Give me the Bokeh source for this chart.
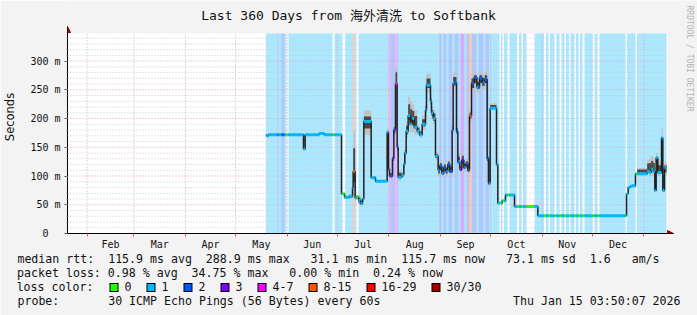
import math
from datetime import datetime
from bokeh.plotting import figure
from bokeh.models import FixedTicker, Arrow, NormalHead, Range1d, LinearAxis
from bokeh.core.properties import value
from bokeh.embed import file_html
from bokeh.resources import INLINE

MONO = "DejaVu Sans Mono"
NB = "\u00a0"

# ---------------- data ----------------
title_text = "Last 360 Days from 海外清洗 to Softbank"
start_time = datetime(2025, 1, 20, 3, 50, 7)
span_days = 360
data_end = 359.4
y_top = 348

month_labels = ["Feb", "Mar", "Apr", "May", "Jun", "Jul", "Aug", "Sep", "Oct", "Nov", "Dec"]
month_starts_dt = [datetime(2025, m, 1) for m in range(2, 13)] + [datetime(2026, 1, 1)]

y_ticks = [0, 50, 100, 150, 200, 250, 300]
y_tick_labels = ["0" + NB + NB, "50 m", "100 m", "150 m", "200 m", "250 m", "300 m"]
y_minor = list(range(10, 350, 10))

loss_labels = ["0", "1", "2", "3", "4-7", "8-15", "16-29", "30/30"]
loss_colors = ["#26ff00", "#00b8ff", "#0059ff", "#7e00ff", "#ff00ff", "#ff5500", "#ff0000", "#a10000"]

# loss timeline (day offsets from start, category index)
loss_start = [119.0, 126.0, 126.6, 128.4, 130.2, 131.4, 132.6, 159.0, 160.2, 165.0, 166.6, 171.4,
              172.6, 173.4, 174.6, 192.8, 193.8, 196.5, 197.8, 198.3, 223.0, 224.4, 225.6, 227.4,
              228.6, 231.0, 232.2, 234.6, 235.8, 238.2, 239.4, 241.0, 242.6, 245.4, 246.6, 249.6,
              250.8, 253.0, 259.2, 260.1, 261.0, 261.9, 264.0, 265.2, 269.7, 270.9, 272.4, 273.3,
              275.4, 280.2, 285.9, 287.1, 288.6, 289.5, 292.2, 293.4, 295.2, 296.4, 298.2, 299.1,
              300.9, 301.8, 304.2, 305.1, 306.6, 307.5, 309.0, 310.2, 315.0, 316.2, 318.0, 319.2,
              334.8, 335.7, 340.8, 341.7]
loss_cat = [1, 2, 1, 2, 1, 0, 1, 0, 1, 0, 1, 5, 1, 0, 1, 4, 2, 4, 2, 1, 2, 1, 2, 1, 2, 1, 2, 1,
            3, 1, 2, 5, 2, 1, 2, 1, 2, 1,
            0, 1, 0, 1, 0, 1, 0, 1, 0, 1, 0, 1, 0, 1, 0, 1, 0, 1, 0, 1, 0, 1, 0, 1, 0, 1, 0, 1,
            0, 1, 0, 1, 0, 1, 0, 1, 0, 1]

# median rtt timeline (day offsets, ms) with smoke extent (ms)
med_start = [119.0, 119.4, 120.6, 141.6, 142.6, 151.0, 154.0, 164.4, 166.2, 169.0, 171.0, 171.4,
             172.6, 173.4, 174.6, 175.8, 177.0, 177.8, 182.2, 184.8, 191.8, 192.6, 193.2, 195.0,
             195.8, 196.8, 197.8, 198.4, 200.4, 201.8, 202.4, 203.2, 204.4, 205.6, 206.8, 208.0,
             209.8, 211.2, 212.8, 214.8, 215.4, 217.8, 218.4, 219.4, 220.8, 222.4, 223.4, 224.6,
             225.8, 227.0, 228.2, 229.4, 230.8, 231.4, 233.4, 234.2, 235.4, 236.6, 237.8, 239.0,
             240.2, 241.2, 242.4, 244.0, 245.6, 247.2, 248.8, 250.4, 251.8, 252.6, 253.6, 257.4,
             258.2, 260.8, 262.8, 268.2, 282.2, 335.4, 336.4, 337.6, 338.8, 340.8, 341.8, 347.8,
             349.0, 350.2, 351.4, 352.4, 353.2, 354.2, 356.4, 357.2, 358.2]
med_ms = [171, 170, 172, 147, 172, 174, 172, 69, 63, 65, 80, 108,
          62, 64, 58, 52, 60, 195, 97, 91, 176, 112, 100, 130,
          180, 260, 150, 98, 102, 120, 140, 178, 205, 190, 200, 185,
          178, 172, 190, 215, 258, 230, 210, 200, 135, 110, 118, 105,
          115, 108, 120, 108, 180, 262, 178, 125, 112, 128, 115, 122,
          110, 205, 262, 272, 255, 270, 262, 268, 130, 88, 218, 120,
          53, 57, 67, 47, 31, 69, 80, 82, 83, 104, 104, 108,
          106, 112, 108, 75, 132, 106, 166, 75, 115]
smoke_lo = [171, 170, 172, 147, 172, 174, 172, 69, 60, 60, 76, 60,
            58, 60, 50, 47, 55, 172, 95, 90, 165, 105, 95, 122,
            170, 250, 140, 92, 96, 112, 132, 165, 185, 175, 178, 172,
            172, 166, 180, 205, 245, 220, 200, 190, 128, 100, 105, 98,
            105, 100, 110, 100, 170, 250, 168, 115, 105, 115, 108, 112,
            104, 195, 245, 255, 245, 255, 250, 255, 122, 82, 216, 115,
            52, 56, 66, 47, 31, 69, 79, 81, 82, 103, 103, 104,
            100, 100, 100, 72, 100, 100, 120, 72, 100]
smoke_hi = [171, 170, 172, 150, 172, 174, 172, 69, 66, 68, 84, 178,
            66, 67, 66, 60, 64, 214, 100, 92, 182, 118, 108, 138,
            190, 291, 160, 110, 108, 128, 148, 195, 238, 230, 225, 215,
            188, 180, 205, 228, 278, 240, 220, 215, 142, 118, 128, 115,
            125, 118, 130, 122, 190, 280, 188, 140, 120, 142, 125, 130,
            118, 215, 278, 282, 270, 282, 278, 282, 138, 95, 226, 125,
            55, 58, 68, 47, 31, 69, 82, 84, 85, 106, 114, 128,
            130, 135, 130, 110, 140, 125, 183, 110, 125]

rtt_stats = [115.9, 288.9, 31.1, 115.7]
rtt_sd = 73.1
rtt_ams = 1.6
loss_stats = [0.98, 34.75, 0.00, 0.24]
probe_text = "30 ICMP Echo Pings (56 Bytes) every 60s"
stamp_text = "Thu Jan 15 03:50:07 2026"
watermark = "RRDTOOL / TOBI OETIKER"

# ---------------- derived ----------------
def day_of(dt):
    return (dt - start_time).total_seconds() / 86400.0

month_starts = [round(day_of(d), 3) for d in month_starts_dt]
month_mids = [round((a + b) / 2, 3) for a, b in zip(month_starts[:-1], month_starts[1:])]
loss_end = loss_start[1:] + [data_end]
med_end = med_start[1:] + [data_end]

# canvas layout (px)
W, H = 697, 315
PL, PR, PT, PB = 67, 667, 33, 233      # plot area

def X(cx):   # canvas px -> day
    return round((cx - PL) * span_days / (PR - PL), 3)
def Y(cy):   # canvas px -> ms
    return (PB - cy) * y_top / (PB - PT)

BG = "#f3f3f3"
MGRID = "#e8a0a0"
GRID = "#cacaca"
TXT = "#111111"

# the frame is fixed (0..PB tall, PL..W wide); the panels below stack tightly under it
p = figure(frame_width=W - PL, frame_height=PB, x_range=Range1d(0, X(W)),
           y_range=Range1d(0, Y(0)), output_backend="svg", toolbar_location=None,
           min_border_left=PL, min_border_right=0, min_border_top=0, min_border_bottom=0,
           background_fill_color=BG, border_fill_color=BG)
p.outline_line_color = None
p.xgrid.visible = False
p.ygrid.visible = False

# axes
xa = p.xaxis[0]
xa.bounds = (0, X(673))
xa.ticker = FixedTicker(ticks=month_mids, minor_ticks=month_starts)
xa.major_label_overrides = {m: lab for m, lab in zip(month_mids, month_labels)}
xa.major_tick_line_color = None
xa.major_tick_out = 0
xa.major_tick_in = 0
xa.minor_tick_out = 3
xa.minor_tick_in = 0
xa.minor_tick_line_color = "#d06060"
xa.major_label_standoff = 2
xa.major_label_text_font = MONO
xa.major_label_text_font_size = "10px"
xa.major_label_text_color = TXT
xa.axis_line_color = "#000000"

ya = p.yaxis[0]
ya.bounds = (0, Y(26))
ya.ticker = FixedTicker(ticks=y_ticks, minor_ticks=y_minor)
ya.major_label_overrides = {t: lab for t, lab in zip(y_ticks, y_tick_labels)}
ya.major_tick_out = 3
ya.major_tick_in = 0
ya.minor_tick_out = 1
ya.minor_tick_in = 0
ya.major_tick_line_color = "#555555"
ya.minor_tick_line_color = "#999999"
ya.major_label_standoff = 4
ya.major_label_text_font = MONO
ya.major_label_text_font_size = "10px"
ya.major_label_text_color = TXT
ya.axis_line_color = "#000000"
ya.axis_label = "Seconds"
ya.axis_label_text_font = "DejaVu Sans"
ya.axis_label_text_font_size = "11.5px"
ya.axis_label_text_font_style = "normal"
ya.axis_label_text_color = TXT
ya.axis_label_standoff = 10

# white plot area
p.quad(left=[0], right=[span_days], bottom=[0], top=[y_top], fill_color="#ffffff",
       line_color=None, level="image")

# loss background bands
bl, br, bc = [], [], []
for a, b, k in zip(loss_start, loss_end, loss_cat):
    if k > 0:
        bl.append(a); br.append(b); bc.append(loss_colors[k])
p.quad(left=bl, right=br, bottom=0, top=y_top, fill_color=bc, fill_alpha=0.33,
       line_color=None, level="image")

# grid (over the bands, under the data)
minor_only = [v for v in y_minor if v not in y_ticks]
p.segment(x0=0, x1=span_days, y0=minor_only, y1=minor_only, line_color=GRID,
          line_dash="1 2", line_width=1, level="underlay")
p.segment(x0=0, x1=span_days, y0=y_ticks[1:], y1=y_ticks[1:], line_color=MGRID,
          line_dash="1 2", line_width=1, level="underlay")
p.segment(x0=month_starts, x1=month_starts, y0=0, y1=y_top, line_color=MGRID,
          line_dash="1 2", line_width=1, level="underlay")

# smoke
p.quad(left=med_start, right=med_end, bottom=smoke_lo, top=smoke_hi,
       fill_color="#c2c2c2", line_color=None)
in_lo = [lo + (hi - lo) * 0.25 for lo, hi in zip(smoke_lo, smoke_hi)]
in_hi = [hi - (hi - lo) * 0.25 for lo, hi in zip(smoke_lo, smoke_hi)]
p.quad(left=med_start, right=med_end, bottom=in_lo, top=in_hi,
       fill_color="#484848", line_color=None)

# median step line
xs, ys = [], []
for a, b, m in zip(med_start, med_end, med_ms):
    xs += [a, b]
    ys += [m, m]
p.line(xs, ys, line_color="#202020", line_width=1.5)

# loss-coloured median pieces
x0, x1, yy, cc = [], [], [], []
for a, b, m in zip(med_start, med_end, med_ms):
    for c, d, k in zip(loss_start, loss_end, loss_cat):
        lo, hi = max(a, c), min(b, d)
        if hi > lo:
            x0.append(lo); x1.append(hi); yy.append(m); cc.append(loss_colors[k])
p.segment(x0=x0, y0=yy, x1=x1, y1=yy, line_color=cc, line_width=3, line_cap="butt")

# axis arrows
ah = dict(size=6, fill_color="#990000", line_color="#990000")
p.add_layout(Arrow(end=NormalHead(**ah), x_start=0, y_start=y_top, x_end=0, y_end=Y(26),
                   line_color="#000000", line_width=1))
p.add_layout(Arrow(end=NormalHead(**ah), x_start=span_days, y_start=0, x_end=X(673), y_end=0,
                   line_color="#000000", line_width=1))

# title and watermark (inside the frame area)
p.text(x=[X(348)], y=[Y(15)], text=[title_text], text_align="center", text_baseline="middle",
       text_font=value("DejaVu Sans Mono, Noto Sans CJK SC"), text_font_size="13px",
       text_color=TXT)
p.text(x=[X(689)], y=[Y(5)], text=[watermark.replace(" ", NB)], angle=-math.pi / 2,
       text_align="left", text_baseline="middle", text_font=value(MONO),
       text_font_size="8px", text_color="#b4b4b4")

# ---------------- legend rows (extra axes stacked below the time axis) ----------------
CW = 7.0
LX = 16
row1 = ("median rtt:  " + f"{rtt_stats[0]:5.1f} ms avg  {rtt_stats[1]:5.1f} ms max  "
        f"{rtt_stats[2]:5.1f} ms min  {rtt_stats[3]:5.1f} ms now  {rtt_sd:5.1f} ms sd  "
        f"{rtt_ams:3.1f}   am/s")
row2 = ("packet loss: " + f"{loss_stats[0]:.2f} % avg  {loss_stats[1]:5.2f} % max  "
        f"{loss_stats[2]:5.2f} % min  {loss_stats[3]:.2f} % now")
row3 = "loss color:" + " " * 4      # trailing blanks keep the label centre inside the range
row4_left = "probe:       " + probe_text
pad = int(round((681 - LX) / CW)) - len(row4_left) - len(stamp_text)
row4 = row4_left + " " * pad + stamp_text

def text_axis(texts, lefts, standoff):
    centers = [X(l + CW * len(t) / 2) for t, l in zip(texts, lefts)]
    ax = LinearAxis(ticker=FixedTicker(ticks=centers, minor_ticks=[]),
                    major_label_overrides={c: t.replace(" ", NB) for c, t in zip(centers, texts)},
                    axis_line_color=None, major_tick_line_color=None,
                    minor_tick_line_color=None, major_tick_out=0, major_tick_in=0,
                    minor_tick_out=0, minor_tick_in=0, major_label_standoff=standoff,
                    major_label_text_font=MONO, major_label_text_font_size="11.6px",
                    major_label_text_color=TXT)
    p.add_layout(ax, "below")

def bar_axis(x_left, width, color, line_width):
    ax = LinearAxis(ticker=FixedTicker(ticks=[], minor_ticks=[]),
                    bounds=(X(x_left), X(x_left + width)),
                    axis_line_color=color, axis_line_width=line_width,
                    major_tick_out=0, major_tick_in=0, minor_tick_out=0, minor_tick_in=0,
                    major_label_standoff=0, major_label_text_font_size="0px")
    p.add_layout(ax, "below")

def spacer_axis(size):
    t = X(300)
    ax = LinearAxis(ticker=FixedTicker(ticks=[t], minor_ticks=[]), axis_line_color=None,
                    major_tick_line_color=None, minor_tick_line_color=None,
                    major_tick_out=size, major_tick_in=0, minor_tick_out=0, minor_tick_in=0,
                    major_label_overrides={t: ""}, major_label_standoff=0,
                    major_label_text_font_size="0px")
    p.add_layout(ax, "below")

text_axis([row1], [LX], -1)
text_axis([row2], [LX], -3)
spacer_axis(5)

# legend boxes and labels
bx, tx = [], []
cur = 109
for lab in loss_labels:
    bx.append(cur)
    tx.append(cur + 15)
    cur += 15 + CW * len(lab) + 15
for b in bx:
    bar_axis(b, 9, "#000000", 9)
for b, col in zip(bx, loss_colors):
    bar_axis(b + 1, 7, col, 7)
text_axis([row3] + loss_labels, [LX] + tx, -8)
text_axis([row4], [LX], -3)
spacer_axis(6)

open("out.html", "w").write(file_html(p, INLINE))
